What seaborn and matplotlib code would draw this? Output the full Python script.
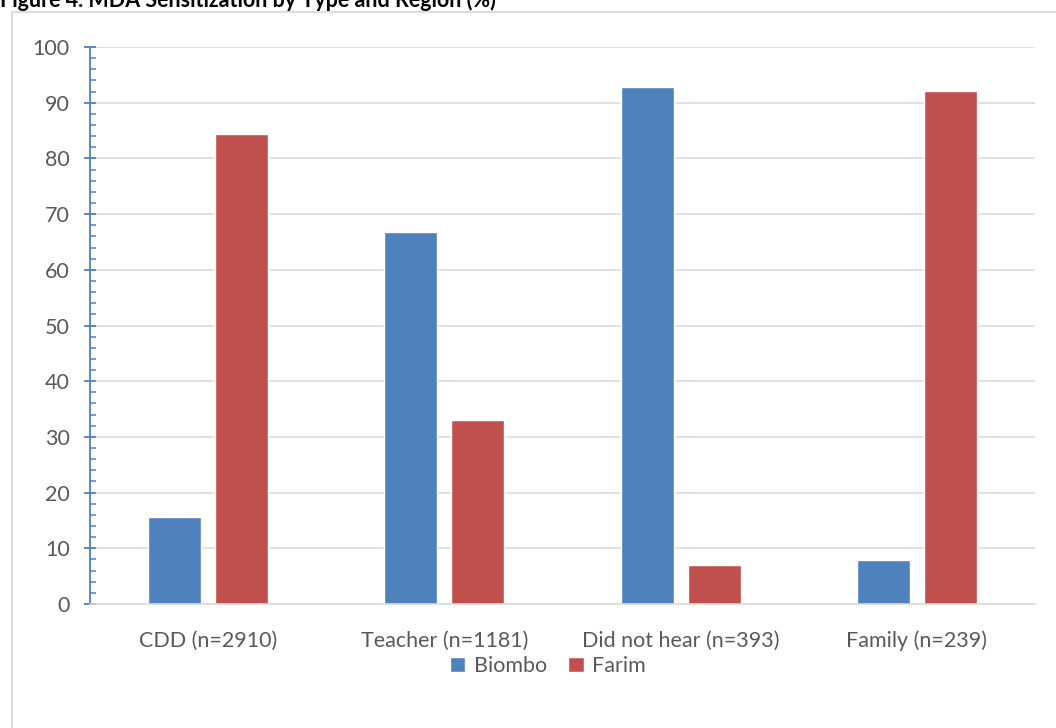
import pandas as pd
import matplotlib.pyplot as plt
import seaborn as sns
from matplotlib.patches import Rectangle
from matplotlib.ticker import MultipleLocator

# data
categories = ['CDD (n=2910)', 'Teacher (n=1181)', 'Did not hear (n=393)', 'Family (n=239)']
biombo = [15.6, 66.8, 92.8, 7.9]
farim = [84.4, 33.0, 7.0, 92.1]
regions = ['Biombo', 'Farim']

PALETTE = {'Biombo': '#4F81BD', 'Farim': '#C0504D'}
TEXT = '#595959'
GRID = '#D9D9D9'

sns.set_theme(style='white')
plt.rcParams['font.family'] = ['Lato', 'DejaVu Sans']

df = pd.DataFrame({
    'Category': categories * 2,
    'Region': ['Biombo'] * len(categories) + ['Farim'] * len(categories),
    'Value': biombo + farim,
})

fig = plt.figure(figsize=(10.56, 7.28), dpi=100)
ax = fig.add_axes([90 / 1056, 1 - 604 / 728, 945 / 1056, 557 / 728])

sns.barplot(data=df, x='Category', y='Value', hue='Region', hue_order=regions,
            palette=PALETTE, width=0.568, gap=0.21, saturation=1, ax=ax)

ax.set_xlim(-0.5, 3.5)
ax.set_ylim(0, 100)
ax.yaxis.set_major_locator(MultipleLocator(10))
ax.yaxis.set_minor_locator(MultipleLocator(2))
ax.grid(axis='y', color=GRID, linewidth=1.1)
ax.set_axisbelow(True)
ax.set_xlabel('')
ax.set_ylabel('')

for s in ['top', 'right']:
    ax.spines[s].set_visible(False)
ax.spines['left'].set_color('#4F81BD')
ax.spines['left'].set_linewidth(1.3)
ax.spines['bottom'].set_color(GRID)
ax.spines['bottom'].set_linewidth(1.1)

ax.tick_params(axis='y', which='major', direction='inout', length=9, width=1.3,
               color='#4F81BD', labelsize=15.5, labelcolor=TEXT, pad=10, left=True)
ax.tick_params(axis='y', which='minor', direction='in', length=4.5, width=1.1,
               color='#4F81BD', left=True)
ax.tick_params(axis='x', length=0, labelsize=15.5, labelcolor=TEXT, pad=19)

leg = ax.legend(loc='center', bbox_to_anchor=(548 / 1056, 1 - 666 / 728),
                bbox_transform=fig.transFigure, ncol=2, frameon=False,
                fontsize=15.5, handlelength=0.7, handleheight=0.7,
                handletextpad=0.4, columnspacing=1.0)
for t in leg.get_texts():
    t.set_color(TEXT)

# outer chart frame (clipped by figure edges like the source)
fig.patches.append(Rectangle((12 / 1056, -0.05), 1.1, 1 - 12 / 728 + 0.05,
                             transform=fig.transFigure, fill=False,
                             edgecolor=GRID, linewidth=1.3))

fig.text(0.0, 1 - 7 / 728, 'Figure 4. MDA Sensitization by Type and Region (%)',
         fontsize=15.5, fontweight='bold', color='black', va='baseline', ha='left')

plt.savefig('out.png', dpi=100)
